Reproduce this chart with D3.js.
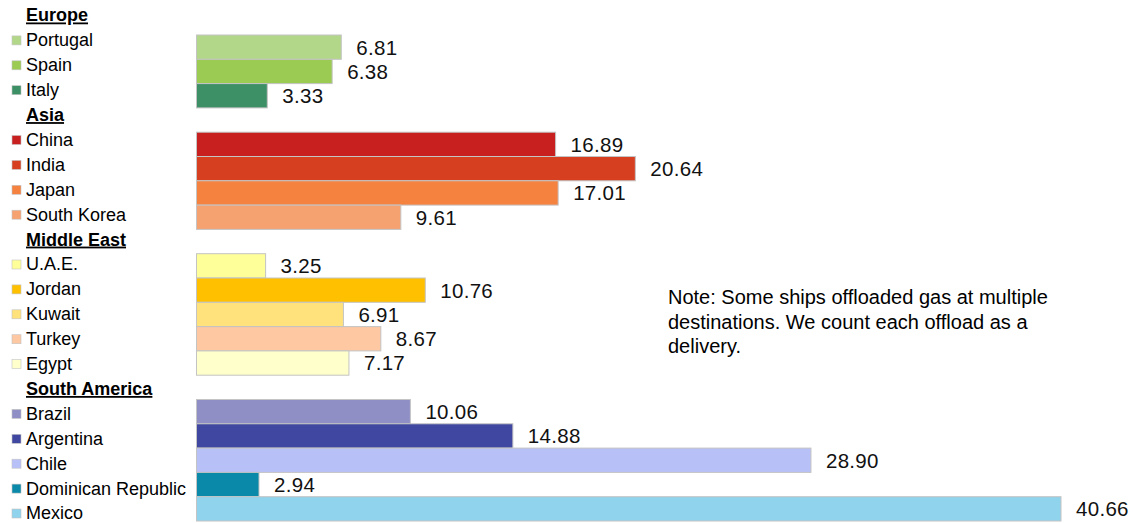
<!DOCTYPE html>
<html>
<head>
<meta charset="utf-8">
<script src="https://cdn.jsdelivr.net/npm/d3@7"></script>
<style>
  html, body { margin: 0; padding: 0; background: #fff; }
  svg { display: block; font-family: "Liberation Sans", Arial, sans-serif; }
</style>
</head>
<body>
<svg id="chart" width="1133" height="523"></svg>
<script>
// regions, in order, with their countries
const regions   = ['Europe', 'Asia', 'Middle East', 'South America'];
const countries = [
    ['Portugal', 'Spain', 'Italy'],
    ['China', 'India', 'Japan', 'South Korea'],
    ['U.A.E.', 'Jordan', 'Kuwait', 'Turkey', 'Egypt'],
    ['Brazil', 'Argentina', 'Chile', 'Dominican Republic', 'Mexico']
];
const values = [
    [6.81, 6.38, 3.33],
    [16.89, 20.64, 17.01, 9.61],
    [3.25, 10.76, 6.91, 8.67, 7.17],
    [10.06, 14.88, 28.90, 2.94, 40.66]
];
const colors = [
    ['#b3d789', '#9bcb52', '#3d8f66'],
    ['#c8201e', '#d63f20', '#f5823f', '#f6a270'],
    ['#ffff99', '#ffc000', '#ffe27c', '#fdc8a2', '#ffffcc'],
    ['#8f8fc6', '#3f47a0', '#b8c0f8', '#0a89a8', '#8fd3ec']
];
const note = ['Note: Some ships offloaded gas at multiple',
              'destinations. We count each offload as a',
              'delivery.'];

// flatten into rows: a header row per region, then its countries
const rows = [];
regions.forEach(function (r, gi) {
    rows.push({ header: true, name: r });
    countries[gi].forEach(function (c, i) {
        rows.push({ header: false, name: c, value: values[gi][i], color: colors[gi][i] });
    });
});

const svg = d3.select('#chart');

// legend rows (slightly different pitch than the bars, as in the original)
const yLegend = d3.scaleLinear().domain([0, rows.length - 1]).range([15, 513]);
// bar slots: header rows stand for the gaps between groups
const barRows = rows.slice(1);
const yBar = d3.scaleBand().domain(d3.range(barRows.length)).range([35, 521]).padding(0);
const x = d3.scaleLinear().domain([0, 40.66]).range([196.5, 1061]);

// bars
const bars = svg.append('g');
barRows.forEach(function (d, i) {
    if (d.header) return;
    bars.append('rect')
        .attr('x', x(0))
        .attr('y', yBar(i))
        .attr('width', x(d.value) - x(0))
        .attr('height', yBar.bandwidth())
        .attr('fill', d.color)
        .attr('stroke', '#c4c4c4')
        .attr('stroke-width', 1);
    bars.append('text')
        .attr('x', x(d.value) + 15)
        .attr('y', yBar(i) + yBar.bandwidth() / 2)
        .attr('dy', '0.36em')
        .attr('font-size', 20.5)
        .attr('letter-spacing', 0.3)
        .attr('fill', '#111')
        .text(d.value.toFixed(2));
});

// legend
const leg = svg.append('g');
rows.forEach(function (d, i) {
    const y = yLegend(i);
    if (d.header) {
        leg.append('text')
            .attr('x', 26)
            .attr('y', y)
            .attr('dy', '0.36em')
            .attr('font-size', 18)
            .attr('font-weight', 'bold')
            .attr('text-decoration', 'underline')
            .attr('fill', '#000')
            .text(d.name);
        return;
    }
    leg.append('rect')
        .attr('x', 12).attr('y', y - 4)
        .attr('width', 9).attr('height', 9)
        .attr('fill', d.color)
        .attr('stroke', '#c4c4c4')
        .attr('stroke-width', 0.6);
    leg.append('text')
        .attr('x', 26)
        .attr('y', y)
        .attr('dy', '0.36em')
        .attr('font-size', 18)
        .attr('fill', '#000')
        .text(d.name);
});

// note
svg.append('g').selectAll('text')
    .data(note)
    .join('text')
    .attr('x', 668)
    .attr('y', function (d, i) { return 297 + i * 24.5; })
    .attr('dy', '0.36em')
    .attr('font-size', 20)
    .attr('fill', '#000')
    .text(function (d) { return d; });
</script>
</body>
</html>
